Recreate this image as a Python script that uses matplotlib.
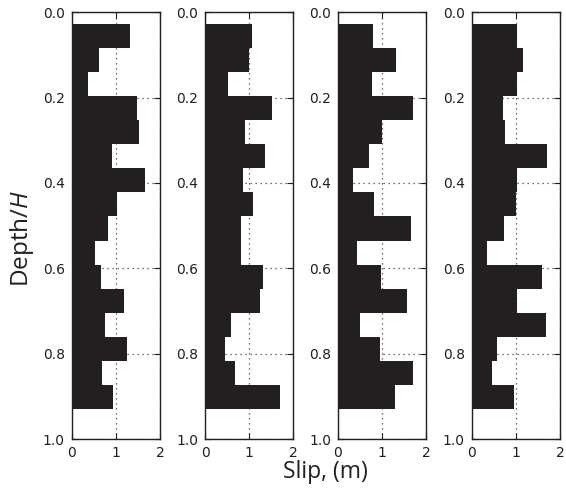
import matplotlib
matplotlib.use("Agg")
import matplotlib.pyplot as plt
import numpy as np

# slip per depth bin, read top to bottom, for the four panels
slip_a = [1.32, 0.62, 0.38, 1.49, 1.52, 0.91, 1.67, 1.02,
          0.83, 0.53, 0.66, 1.19, 0.75, 1.26, 0.69, 0.94]
slip_b = [1.06, 0.99, 0.52, 1.51, 0.90, 1.37, 0.85, 1.09,
          0.82, 0.82, 1.31, 1.25, 0.58, 0.45, 0.67, 1.71]
slip_c = [0.80, 1.31, 0.77, 1.71, 0.99, 0.70, 0.34, 0.81,
          1.66, 0.43, 0.97, 1.56, 0.50, 0.96, 1.71, 1.29]
slip_d = [1.02, 1.17, 1.02, 0.70, 0.75, 1.71, 1.02, 1.00,
          0.73, 0.35, 1.59, 1.03, 1.68, 0.58, 0.47, 0.96]
panels = [slip_a, slip_b, slip_c, slip_d]

depth_top, depth_bottom = 0.027, 0.93
x_ticks = [0, 1, 2]
y_ticks = [0.0, 0.2, 0.4, 0.6, 0.8, 1.0]

bar_color = "#231f20"

plt.rcParams["mathtext.fontset"] = "custom"
plt.rcParams["mathtext.it"] = "Open Sans:italic"
plt.rcParams["mathtext.rm"] = "Open Sans"

fig = plt.figure(figsize=(5.66, 4.90), dpi=100)
lefts = [71.7, 205.0, 338.0, 471.7]
W, H = 566.0, 490.0

for left, slips in zip(lefts, panels):
    ax = fig.add_axes([left / W, 1 - 439 / H, 88.3 / W, (439 - 12.3) / H])
    edges = np.linspace(depth_top, depth_bottom, len(slips) + 1)
    # one stepped polygon, so no seams between neighbouring bins
    ax.fill_betweenx(edges, 0, np.append(slips, slips[-1]), step="post",
                     color=bar_color, linewidth=0, zorder=2)
    ax.set_xlim(0, 2)
    ax.set_ylim(1.0, 0.0)
    ax.set_xticks(x_ticks)
    ax.set_yticks(y_ticks)
    ax.set_yticklabels([f"{v:.1f}" for v in y_ticks])
    ax.set_axisbelow(True)
    ax.grid(True, linestyle=(0, (1, 3)), color="#444444", linewidth=0.9)
    ax.tick_params(direction="in", top=True, right=True, length=4,
                   labelsize=10, colors="#231f20", pad=5)
    for s in ax.spines.values():
        s.set_linewidth(1.0)
        s.set_color("#231f20")

fig.text(22 / W, 1 - 238 / H, "Depth/$\\mathit{H}$", rotation=90, ha="center",
         va="center", fontsize=17.5, family="Open Sans", color="#231f20")
fig.text(325 / W, 1 - 472 / H, "Slip, (m)", ha="center", va="center",
         fontsize=16.5, family="Open Sans", color="#231f20")

fig.savefig("out.png", dpi=100)
